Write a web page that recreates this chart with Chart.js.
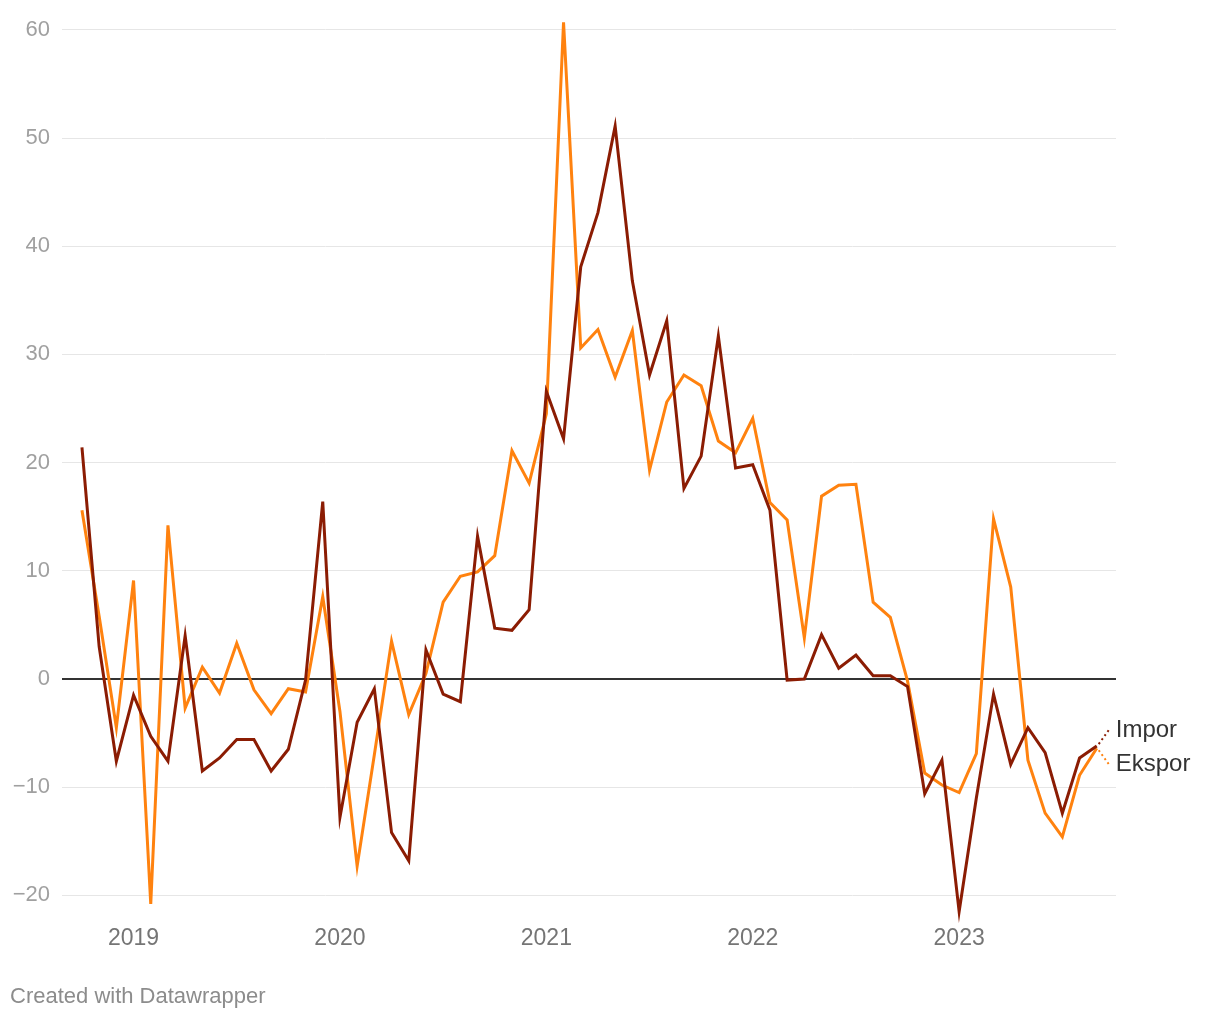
<!DOCTYPE html>
<html>
<head>
<meta charset="utf-8">
<script src="https://cdn.jsdelivr.net/npm/chart.js@4"></script>
<style>
html,body{margin:0;padding:0;background:#fff;}
#wrap{position:relative;width:1220px;height:1020px;}
</style>
</head>
<body>
<div id="wrap"><canvas id="c" width="1220" height="1020"></canvas></div>
<script>
// Monthly categories (Oct 2018 – Sep 2023)
const months = [
  '2018-10','2018-11','2018-12',
  '2019-01','2019-02','2019-03','2019-04','2019-05','2019-06','2019-07','2019-08','2019-09','2019-10','2019-11','2019-12',
  '2020-01','2020-02','2020-03','2020-04','2020-05','2020-06','2020-07','2020-08','2020-09','2020-10','2020-11','2020-12',
  '2021-01','2021-02','2021-03','2021-04','2021-05','2021-06','2021-07','2021-08','2021-09','2021-10','2021-11','2021-12',
  '2022-01','2022-02','2022-03','2022-04','2022-05','2022-06','2022-07','2022-08','2022-09','2022-10','2022-11','2022-12',
  '2023-01','2023-02','2023-03','2023-04','2023-05','2023-06','2023-07','2023-08','2023-09'
];

// Impor (import growth, %)
const impor = [
  21.4, 3.0, -7.6,
  -1.5, -5.3, -7.6, 4.0, -8.5, -7.3, -5.6, -5.6, -8.5, -6.5, -0.1, 16.4,
  -12.8, -4.0, -0.9, -14.2, -16.8, 2.7, -1.4, -2.1, 13.2, 4.7, 4.5, 6.4,
  26.6, 22.2, 38.1, 43.1, 51.1, 36.8, 28.1, 33.1, 17.6, 20.6, 31.7, 19.5,
  19.8, 15.6, -0.1, 0.0, 4.1, 1.0, 2.2, 0.3, 0.3, -0.7, -10.6, -7.5,
  -21.5, -11.0, -1.4, -7.9, -4.5, -6.8, -12.4, -7.3, -6.2
];

// Ekspor (export growth, %)
const ekspor = [
  15.6, 5.8, -4.5,
  9.1, -20.8, 14.2, -2.7, 1.1, -1.3, 3.3, -1.0, -3.2, -0.9, -1.2, 7.6,
  -3.0, -17.3, -7.0, 3.5, -3.3, 0.5, 7.1, 9.5, 9.9, 11.4, 21.1, 18.1,
  24.5, 60.7, 30.6, 32.3, 27.9, 32.2, 19.3, 25.6, 28.1, 27.1, 22.0, 20.9,
  24.1, 16.3, 14.7, 3.8, 16.9, 17.9, 18.0, 7.1, 5.7, -0.2, -8.7, -9.8,
  -10.5, -6.9, 14.8, 8.5, -7.5, -12.4, -14.6, -8.9, -6.4
];

const seriesNames = ['Impor', 'Ekspor'];
const yTicks = [-20, -10, 0, 10, 20, 30, 40, 50, 60];
const yearLabels = ['2019', '2020', '2021', '2022', '2023'];

const COL_IMPOR = '#8b1c03';
const COL_EKSPOR = '#ff820f';
const FONT = '"Liberation Sans", Arial, Helvetica, sans-serif';

const yearTickIndex = yearLabels.map(y => months.indexOf(y + '-01'));

const toXY = arr => arr.map((v, i) => ({x: i, y: v}));

const endLabels = {
  id: 'endLabels',
  afterDatasetsDraw(chart) {
    const ctx = chart.ctx;
    const m0 = chart.getDatasetMeta(0).data;
    const m1 = chart.getDatasetMeta(1).data;
    const p0 = m0[m0.length - 1], p1 = m1[m1.length - 1];
    const mid = (p0.y + p1.y) / 2;
    const items = [
      {p: p0, ly: mid - 17, col: COL_IMPOR, text: seriesNames[0]},
      {p: p1, ly: mid + 17, col: COL_EKSPOR, text: seriesNames[1]}
    ];
    ctx.save();
    items.forEach(it => {
      ctx.beginPath();
      ctx.setLineDash([2, 3]);
      ctx.lineWidth = 2;
      ctx.strokeStyle = it.col;
      ctx.moveTo(it.p.x + 2, it.p.y + (it.ly < it.p.y ? -2 : 2));
      ctx.lineTo(it.p.x + 12, it.ly);
      ctx.stroke();
      ctx.setLineDash([]);
      ctx.fillStyle = '#333333';
      ctx.font = '24px ' + FONT;
      ctx.textAlign = 'left';
      ctx.textBaseline = 'middle';
      ctx.fillText(it.text, it.p.x + 19, it.ly);
    });
    ctx.fillStyle = '#8c8c8c';
    ctx.font = '22px ' + FONT;
    ctx.textAlign = 'left';
    ctx.textBaseline = 'middle';
    ctx.fillText('Created with Datawrapper', 10, 997);
    ctx.restore();
  }
};

new Chart(document.getElementById('c'), {
  type: 'line',
  data: {
    datasets: [
      {label: seriesNames[0], data: toXY(impor), borderColor: COL_IMPOR, borderWidth: 3, pointRadius: 0, tension: 0, fill: false, clip: false},
      {label: seriesNames[1], data: toXY(ekspor), borderColor: COL_EKSPOR, borderWidth: 3, pointRadius: 0, tension: 0, fill: false, clip: false}
    ]
  },
  options: {
    responsive: false,
    animation: false,
    devicePixelRatio: 1,
    layout: {padding: {top: 19, right: 104, bottom: 0, left: 0}},
    plugins: {legend: {display: false}, tooltip: {enabled: false}},
    scales: {
      x: {
        type: 'linear',
        min: -1.16,
        max: 60.12,
        afterFit: s => { s.height = 103; s.paddingLeft = 0; s.paddingRight = 0; },
        afterBuildTicks: s => { s.ticks = yearTickIndex.map(v => ({value: v})); },
        grid: {display: false, drawTicks: false},
        border: {display: false},
        ticks: {
          padding: 8,
          color: '#757575',
          font: {family: FONT, size: 23},
          maxRotation: 0,
          autoSkip: false,
          callback: v => yearLabels[yearTickIndex.indexOf(v)]
        }
      },
      y: {
        min: -22,
        max: 61,
        afterFit: s => { s.width = 62; s.paddingTop = 0; s.paddingBottom = 0; },
        afterBuildTicks: s => { s.ticks = yTicks.map(v => ({value: v})); },
        grid: {
          drawTicks: false,
          color: c => c.tick && c.tick.value === 0 ? '#333333' : '#e6e6e6',
          lineWidth: c => c.tick && c.tick.value === 0 ? 2 : 1
        },
        border: {display: false},
        ticks: {
          padding: 12,
          color: '#a0a0a0',
          font: {family: FONT, size: 22},
          callback: v => v < 0 ? '\u2212' + Math.abs(v) : String(v)
        }
      }
    }
  },
  plugins: [endLabels]
});
</script>
</body>
</html>
